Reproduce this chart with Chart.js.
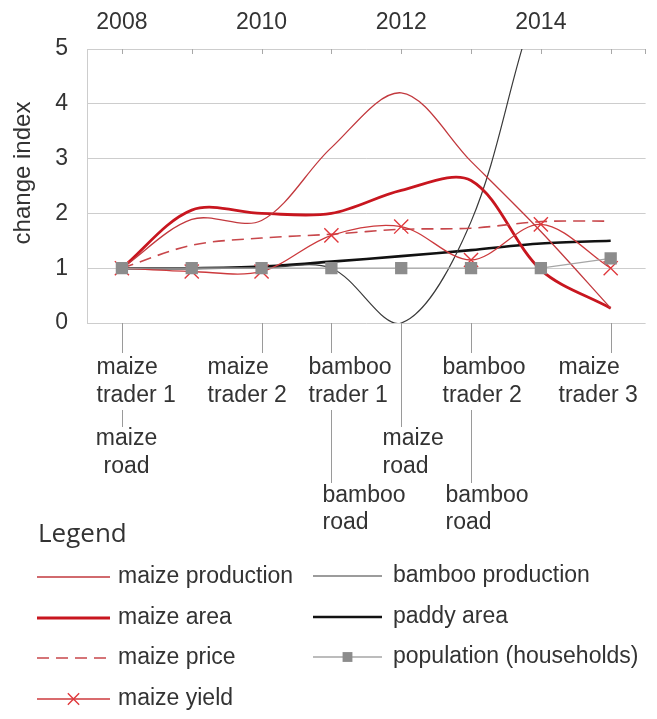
<!DOCTYPE html>
<html>
<head>
<meta charset="utf-8">
<script src="https://cdn.jsdelivr.net/npm/chart.js@4.4.1/dist/chart.umd.min.js"></script>
<style>
html,body{margin:0;padding:0;background:#fff;}
#wrap{position:relative;width:657px;height:719px;}
</style>
</head>
<body>
<div id="wrap"><canvas id="c" width="657" height="719"></canvas></div>
<script>
// ---- data ----
const years = ['2008','2009','2010','2011','2012','2013','2014','2015'];
const tickLabels = ['2008','','2010','','2012','','2014',''];
const yTicks = [0,1,2,3,4,5];

const maizeProduction = [1, 1.89, 1.87, 3.2, 4.2, 2.95, 1.67, 0.27];
const maizeArea       = [1, 2.06, 2.0, 2.0, 2.42, 2.6, 0.97, 0.27];
const maizePrice      = [1, 1.42, 1.55, 1.62, 1.71, 1.73, 1.85, 1.86];
const maizeYield      = [1, 0.94, 0.94, 1.6, 1.76, 1.15, 1.8, 1.0];
const bambooProduction= [1, 1, 1, 1, 0, 1.85, 6, 8];
const paddyArea       = [1, 1.0, 1.03, 1.12, 1.22, 1.33, 1.45, 1.5];
const population      = [1, 1, 1, 1, 1, 1, 1, 1.18];

const eventYears  = ['2008','2010','2011','2013','2015','2008','2012','2011','2013'];
const eventLabels = [['maize','trader 1'],['maize','trader 2'],['bamboo','trader 1'],['bamboo','trader 2'],['maize','trader 3'],['maize','road'],['maize','road'],['bamboo','road'],['bamboo','road']];
const eventTiers  = [0,0,0,0,0,1,1,2,2];

const legendLeft  = ['maize production','maize area','maize price','maize yield'];
const legendRight = ['bamboo production','paddy area','population (households)'];

// ---- layout / style (not data) ----
const eventDx    = [-26,-55,-23,-29,-53,4,-19,-9,-26];
const eventAlign = ['left','left','left','left','left','center','left','left','left'];
const tierRows   = [[368,396],[439,467],[496,523]];
const tierLineEnd= [353,427,483];
const tierLineStartBelow = 410;

const TXT = '#333333';
const FONT = '"Liberation Sans", Arial, sans-serif';

const overlay = {
  id: 'overlay',
  afterDraw(chart) {
    const ctx = chart.ctx;
    const xs = chart.scales.x;
    const area = chart.chartArea;
    ctx.save();
    // top tick marks
    ctx.strokeStyle = '#a8a8a8'; ctx.lineWidth = 1;
    ctx.beginPath();
    years.forEach(y => { const px = Math.round(xs.getPixelForValue(y)) + 0.5; ctx.moveTo(px, area.top); ctx.lineTo(px, area.top + 5); });
    ctx.moveTo(Math.round(area.right) - 0.5, area.top); ctx.lineTo(Math.round(area.right) - 0.5, area.top + 5);
    ctx.stroke();
    // y title
    ctx.fillStyle = TXT;
    ctx.font = '24px ' + FONT;
    ctx.textAlign = 'center'; ctx.textBaseline = 'middle';
    ctx.save(); ctx.translate(23, 173); ctx.rotate(-Math.PI/2); ctx.fillText('change index', 0, 0); ctx.restore();
    // events
    ctx.font = '23px ' + FONT;
    ctx.strokeStyle = '#9a9a9a';
    eventYears.forEach((yr, i) => {
      const px = Math.round(xs.getPixelForValue(yr)) + 0.5;
      const tier = eventTiers[i];
      const hasAbove = eventYears.some((y2, j) => j !== i && y2 === yr && eventTiers[j] < tier);
      const start = (tier === 0 || !hasAbove) ? area.bottom : tierLineStartBelow;
      ctx.beginPath(); ctx.moveTo(px, start); ctx.lineTo(px, tierLineEnd[tier]); ctx.stroke();
      ctx.textAlign = eventAlign[i];
      eventLabels[i].forEach((t, k) => ctx.fillText(t, px + eventDx[i], tierRows[tier][k]));
    });
    // legend
    ctx.textAlign = 'left';
    ctx.font = '26px "Open Sans", sans-serif';
    ctx.fillText('Legend', 38, 535);
    const rows = [577, 618, 658, 699];
    const drawEntry = (label, x0, x1, tx, y) => {
      const ds = chart.data.datasets.find(d => d.label === label);
      ctx.save();
      ctx.strokeStyle = ds.borderColor; ctx.lineWidth = ds.borderWidth;
      ctx.setLineDash(ds.borderDash || []);
      ctx.beginPath(); ctx.moveTo(x0, y); ctx.lineTo(x1, y); ctx.stroke();
      ctx.setLineDash([]);
      if (ds.pointRadius) {
        ctx.fillStyle = ds.pointBackgroundColor; ctx.strokeStyle = ds.pointBorderColor;
        ctx.lineWidth = ds.pointBorderWidth || 1;
        Chart.helpers.drawPoint(ctx, {pointStyle: ds.pointStyle, radius: ds.pointRadius * 0.8, borderWidth: ds.pointBorderWidth, rotation: 0},
          (x0 + x1) / 2, y);
      }
      ctx.restore();
      ctx.fillStyle = TXT; ctx.font = '23px ' + FONT; ctx.textBaseline = 'middle';
      ctx.fillText(label, tx, y);
    };
    legendLeft.forEach((l, i) => drawEntry(l, 37, 110, 118, rows[i]));
    legendRight.forEach((l, i) => drawEntry(l, 313, 382, 393, rows[i] - 1));
    ctx.restore();
  }
};

const noPt = {pointRadius: 0, pointHoverRadius: 0};
new Chart(document.getElementById('c'), {
  type: 'line',
  data: {
    labels: years,
    datasets: [
      {label: 'population (households)', data: population, borderColor: '#a6a6a6', borderWidth: 1.3, tension: 0,
       pointStyle: 'rect', pointRadius: 8.7, pointBackgroundColor: '#8c8c8c', pointBorderColor: '#8c8c8c', pointBorderWidth: 0},
      {label: 'maize yield', data: maizeYield, borderColor: '#cc3a3d', borderWidth: 1.3, tension: 0.33,
       pointStyle: 'crossRot', pointRadius: 10, pointBackgroundColor: '#e0383c', pointBorderColor: '#e0383c', pointBorderWidth: 1.4},
      Object.assign({label: 'maize price', data: maizePrice, borderColor: '#c8474b', borderWidth: 1.6, borderDash: [12, 7], tension: 0.33}, noPt),
      Object.assign({label: 'maize production', data: maizeProduction, borderColor: '#c2393e', borderWidth: 1.3, tension: 0.33}, noPt),
      Object.assign({label: 'maize area', data: maizeArea, borderColor: '#c8161f', borderWidth: 2.8, tension: 0.33}, noPt),
      Object.assign({label: 'bamboo production', data: bambooProduction, borderColor: '#3a3a3a', borderWidth: 1.2, tension: 0.33}, noPt),
      Object.assign({label: 'paddy area', data: paddyArea, borderColor: '#111111', borderWidth: 2.6, tension: 0.33}, noPt)
    ]
  },
  options: {
    responsive: false,
    animation: false,
    devicePixelRatio: 1,
    layout: {padding: {left: 0, top: 0, right: 10, bottom: 396}},
    elements: {line: {capBezierPoints: false}},
    plugins: {legend: {display: false}, tooltip: {enabled: false}},
    scales: {
      x: {
        type: 'category', position: 'top', offset: true,
        grid: {display: false}, border: {display: false},
        ticks: {autoSkip: false, maxRotation: 0, padding: 5, color: TXT, font: {size: 23, family: FONT},
                callback: (v, i) => tickLabels[i]},
        afterFit: s => { s.height = 49; }
      },
      y: {
        min: 0, max: 5,
        afterBuildTicks: s => { s.ticks = yTicks.map(v => ({value: v})); },
        grid: {color: '#cdcdcd', drawTicks: false, lineWidth: 1},
        border: {color: '#cdcdcd'},
        ticks: {padding: 19, color: TXT, font: {size: 23, family: FONT}},
        afterFit: s => { s.width = 87; }
      }
    }
  },
  plugins: [overlay]
});
</script>
</body>
</html>
